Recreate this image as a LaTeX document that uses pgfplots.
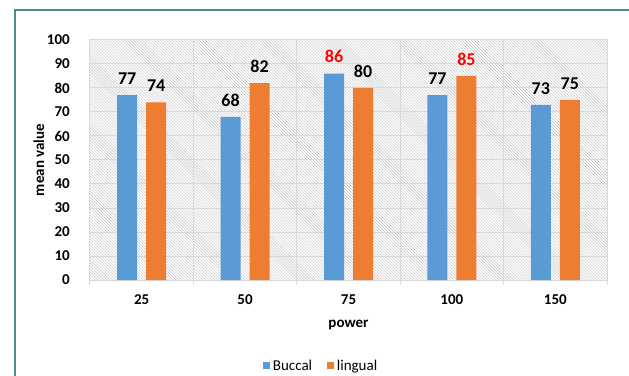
\documentclass[border=0pt]{standalone}
\usepackage{pgfplots}
\pgfplotsset{compat=1.18}
\usepackage{pgfplotstable}
\usepackage{fontspec}
\setmainfont{Carlito}
\usetikzlibrary{patterns}
\definecolor{cblue}{HTML}{5B9BD5}
\definecolor{corange}{HTML}{ED7D31}
\definecolor{teal2}{HTML}{4E8C8E}
\definecolor{gridc}{HTML}{D9D9D9}
\pgfplotstableread{
x b bc l lc
0 77 black 74 black
1 68 black 82 black
2 86 red 80 black
3 77 black 85 red
4 73 black 75 black
}\data
\pgfkeys{/pgf/number format/assume math mode=true}
\begin{document}
\begin{tikzpicture}
\useasboundingbox (-90bp,-96bp) rectangle (539bp,280bp);
\draw[teal2, line width=2bp] (-75bp,-100bp) -- (-75bp,270bp) -- (545bp,270bp);
\begin{axis}[
  at={(0,0)}, anchor=south west,
  scale only axis, width=517bp, height=240bp,
  /pgf/number format/assume math mode=true,
  xmin=-0.5, xmax=4.5, ymin=0, ymax=100,
  xtick={-0.5,0.5,...,4.5}, xticklabels={},
  extra x ticks={0,1,2,3,4},
  extra x tick labels={25,50,75,100,150},
  extra x tick style={grid=none, major tick length=0pt,
     tick label style={anchor=center, yshift=-20bp}},
  ytick={0,10,...,100},
  xtick pos=bottom, ytick pos=left,
  tick align=outside, major tick length=5bp,
  x tick style={draw=gridc, line width=1bp},
  y tick style={draw=none},
  grid=major, major grid style={draw=gridc, line width=1bp},
  axis line style={draw=gridc, line width=1bp},
  axis background/.style={pattern=north west lines, pattern color=gray!50},
  tick label style={font=\fontsize{15bp}{18bp}\selectfont\bfseries},
  yticklabel style={anchor=east, inner sep=0pt, xshift=-15bp},
  xlabel={power}, ylabel={mean value},
  every axis x label/.style={at={(rel axis cs:0.5,0)}, yshift=-45bp, anchor=center, font=\fontsize{15bp}{18bp}\selectfont\bfseries},
  every axis y label/.style={at={(rel axis cs:0,0.5)}, xshift=-51bp, rotate=90, anchor=center, font=\fontsize{15bp}{18bp}\selectfont\bfseries},
  ybar=9bp, bar width=20bp,
  clip=false,
  point meta=explicit symbolic,
  visualization depends on={y \as \rawy},
  nodes near coords={\textcolor{\pgfplotspointmeta}{\pgfmathprintnumber{\rawy}}},
  every node near coord/.append style={font=\fontsize{18bp}{21bp}\selectfont\bfseries, anchor=south, yshift=7bp},
  legend style={at={(rel axis cs:0.447,-0.358)}, anchor=center, draw=none,
     legend columns=2, font=\fontsize{15bp}{18bp}\selectfont,
     /tikz/every odd column/.append style={column sep=1bp}},
  legend image code/.code={\fill[#1] (0bp,-3.5bp) rectangle (7bp,3.5bp);},
]
\addplot[fill=cblue, draw=none] table[x=x, y=b, meta=bc] {\data};
\addlegendentry{\makebox[52bp][l]{Buccal}}
\addplot[fill=corange, draw=none] table[x=x, y=l, meta=lc] {\data};
\addlegendentry{lingual}
\end{axis}
\end{tikzpicture}
\end{document}
